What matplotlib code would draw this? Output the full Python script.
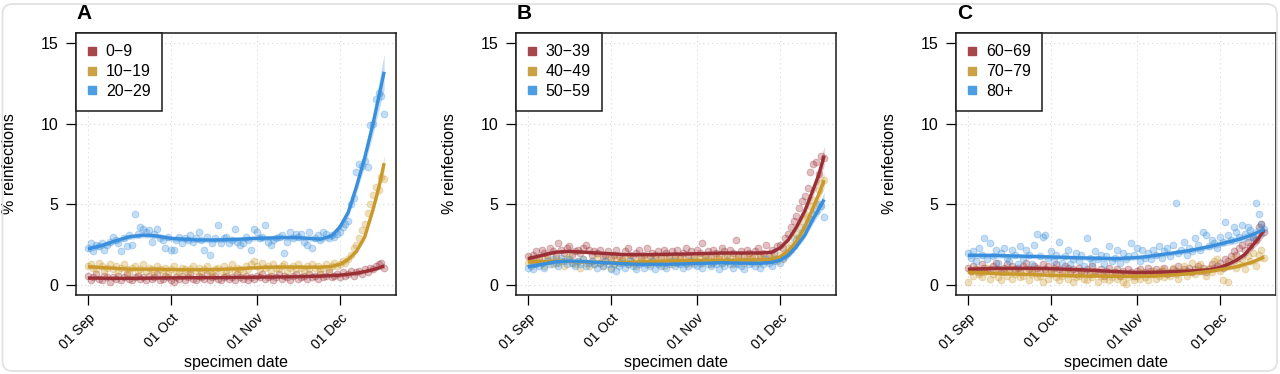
import numpy as np
import pandas as pd
import matplotlib
matplotlib.use("Agg")
import matplotlib.pyplot as plt
import matplotlib.dates as mdates
from matplotlib.lines import Line2D
from matplotlib.patches import FancyBboxPatch

plt.rcParams['font.family'] = ['Liberation Sans', 'DejaVu Sans']

# ---------------- data ----------------
start_date = "2020-09-01"
n_days = 108
tick_dates = ["2020-09-01", "2020-10-01", "2020-11-01", "2020-12-01"]
tick_labels = ["01 Sep", "01 Oct", "01 Nov", "01 Dec"]
panel_letters = ["A", "B", "C"]
panel_groups = [["0\u22129", "10\u221219", "20\u221229"],
                ["30\u221239", "40\u221249", "50\u221259"],
                ["60\u221269", "70\u221279", "80+"]]
y_ticks = [0, 5, 10, 15]

# smooth-fit nodes (day offsets from 1 Sep)
curve_days = [0, 5, 10, 15, 20, 25, 30, 35, 40, 45, 50, 55, 60, 65, 70, 75, 80, 84, 88, 91, 94, 97, 100, 103, 105, 107]

# ---- Panel A ----
pts_0_9 = [
    0.6, 0.3, 0.5, 0.7, 0.4, 0.3, 0.6, 0.5, 0.2, 0.5,
    0.4, 0.6, 0.3, 0.5, 0.7, 0.4, 0.3, 0.5, 0.6, 0.4,
    0.5, 0.3, 0.6, 0.4, 0.5, 0.7, 0.3, 0.4, 0.6, 0.5,
    0.3, 0.2, 0.5, 0.4, 0.6, 0.3, 0.5, 0.7, 0.4, 0.3,
    0.6, 0.5, 0.4, 0.7, 0.3, 0.5, 0.6, 0.4, 0.3, 0.5,
    0.6, 0.4, 0.5, 0.3, 0.7, 0.5, 0.4, 0.6, 0.3, 0.5,
    0.4, 0.6, 0.5, 0.7, 0.4, 0.5, 0.6, 0.3, 0.5, 0.7,
    0.4, 0.6, 0.5, 0.3, 0.6, 0.7, 0.4, 0.5, 0.6, 0.4,
    0.7, 0.5, 0.6, 0.4, 0.7, 0.5, 0.6, 0.8, 0.5, 0.6,
    0.7, 0.5, 0.8, 0.6, 0.7, 0.9, 0.6, 0.8, 0.9, 0.7,
    1.0, 0.8, 1.1, 1.0, 1.2, 1.3, 1.4, 1.1]
pts_10_19 = [
    1.2, 1.3, 1.1, 1.0, 1.4, 1.2, 0.9, 1.1, 1.3, 1.0,
    1.2, 0.9, 1.1, 1.3, 1.0, 0.8, 1.1, 1.2, 0.9, 1.0,
    1.3, 0.9, 1.1, 1.0, 0.8, 1.2, 1.0, 0.9, 1.1, 0.7,
    1.0, 1.2, 0.9, 0.8, 1.1, 1.0, 0.7, 1.0, 1.2, 0.9,
    1.1, 0.8, 1.0, 1.2, 0.9, 0.7, 1.0, 1.1, 0.9, 1.2,
    0.8, 1.0, 1.3, 0.9, 1.1, 1.0, 0.8, 1.2, 1.0, 1.3,
    1.5, 1.2, 1.0, 1.4, 1.1, 1.2, 0.9, 1.3, 1.1, 1.0,
    1.2, 1.3, 0.9, 1.1, 1.2, 1.0, 1.3, 1.1, 0.9, 1.2,
    1.0, 1.3, 1.1, 1.2, 0.9, 1.1, 1.3, 1.0, 1.2, 1.4,
    1.2, 1.3, 1.5, 1.4, 1.6, 1.9, 2.3, 2.5, 2.9, 3.4,
    3.8, 4.5, 5.0, 5.6, 6.1, 5.9, 6.7, 6.6]
pts_20_29 = [
    2.3, 2.6, 2.1, 2.5, 2.4, 2.6, 2.2, 2.5, 2.7, 3.0,
    2.8, 2.6, 2.1, 2.9, 2.4, 3.1, 2.5, 4.4, 3.2, 3.6,
    3.5, 3.3, 3.4, 2.7, 3.2, 3.5, 2.9, 2.8, 2.3, 3.0,
    2.2, 2.2, 2.8, 3.0, 2.6, 2.9, 2.8, 3.1, 2.7, 2.9,
    3.3, 2.8, 2.2, 3.0, 1.9, 2.6, 2.9, 3.7, 2.6, 2.9,
    3.0, 2.6, 2.8, 3.5, 2.7, 2.5, 2.6, 3.0, 2.8, 2.2,
    3.5, 3.3, 2.9, 3.0, 3.7, 2.7, 2.5, 2.8, 2.9, 3.0,
    3.1, 2.0, 2.7, 3.3, 2.9, 3.2, 3.0, 3.2, 2.7, 2.5,
    3.3, 2.3, 2.9, 3.1, 2.8, 3.3, 3.2, 2.9, 3.1, 3.0,
    3.2, 3.3, 3.6, 3.8, 4.0, 5.0, 5.4, 7.0, 7.5, 7.4,
    7.7, 7.3, 9.9, 10.0, 11.5, 11.9, 11.7, 10.6]
fit_0_9 = [0.45, 0.44, 0.43, 0.43, 0.44, 0.45, 0.46, 0.47, 0.47, 0.47, 0.48, 0.49, 0.5,
           0.51, 0.52, 0.53, 0.55, 0.57, 0.6, 0.63, 0.68, 0.75, 0.85, 0.97, 1.07, 1.2]
fit_10_19 = [1.15, 1.1, 1.05, 1.0, 1.0, 1.0, 0.98, 0.97, 0.97, 0.98, 1.0, 1.03, 1.08,
             1.12, 1.13, 1.13, 1.12, 1.12, 1.17, 1.3, 1.6, 2.1, 3.0, 4.7, 6.0, 7.55]
fit_20_29 = [2.25, 2.45, 2.75, 3.0, 3.1, 3.05, 2.9, 2.85, 2.8, 2.8, 2.82, 2.85, 2.9,
             2.92, 2.95, 2.95, 2.9, 2.85, 3.05, 3.6, 4.5, 6.1, 7.9, 10.0, 11.6, 13.2]
ci_0_9 = [0.08, 0.07, 0.06, 0.06, 0.06, 0.06, 0.06, 0.06, 0.06, 0.06, 0.06, 0.06, 0.06,
          0.06, 0.06, 0.06, 0.06, 0.06, 0.07, 0.07, 0.08, 0.08, 0.09, 0.1, 0.12, 0.15]
ci_10_19 = [0.1, 0.09, 0.08, 0.08, 0.08, 0.08, 0.08, 0.08, 0.08, 0.08, 0.08, 0.08, 0.08,
            0.08, 0.08, 0.08, 0.08, 0.08, 0.09, 0.1, 0.12, 0.15, 0.2, 0.3, 0.38, 0.5]
ci_20_29 = [0.2, 0.18, 0.16, 0.16, 0.16, 0.16, 0.16, 0.16, 0.16, 0.16, 0.16, 0.16, 0.16,
            0.16, 0.16, 0.16, 0.16, 0.17, 0.2, 0.25, 0.3, 0.38, 0.5, 0.65, 0.85, 1.1]

# ---- Panel B ----
pts_30_39 = [
    1.8, 1.6, 1.9, 2.1, 1.7, 2.2, 2.0, 1.9, 2.3, 2.1,
    1.8, 2.6, 2.2, 2.0, 2.3, 2.4, 1.9, 2.1, 2.2, 2.0,
    2.3, 2.5, 2.2, 1.9, 2.1, 2.0, 2.2, 1.8, 1.9, 2.1,
    1.7, 1.9, 2.2, 1.8, 1.6, 2.1, 2.3, 1.9, 1.8, 2.0,
    2.2, 1.7, 1.9, 2.3, 1.8, 2.0, 1.9, 2.1, 1.7, 2.2,
    2.0, 1.8, 2.1, 1.9, 2.2, 1.7, 2.0, 2.3, 1.9, 2.1,
    1.8, 2.2, 2.0, 2.6, 1.9, 2.1, 1.7, 2.2, 2.0, 1.8,
    2.3, 2.1, 1.9, 2.2, 2.0, 2.8, 1.8, 2.1, 1.9, 2.2,
    2.0, 1.7, 2.1, 2.3, 1.9, 2.0, 2.5, 1.8, 2.2, 2.0,
    2.4, 2.5, 2.3, 2.9, 3.2, 3.6, 4.0, 4.3, 4.8, 5.2,
    5.5, 6.0, 7.0, 7.5, 7.6, 6.9, 8.0, 7.9]
pts_40_49 = [
    1.4, 1.6, 1.3, 1.5, 1.7, 1.4, 1.2, 1.6, 1.5, 1.3,
    1.7, 1.4, 1.5, 1.2, 1.6, 1.8, 1.4, 1.3, 1.5, 1.1,
    1.6, 1.4, 1.2, 1.5, 1.3, 1.7, 1.4, 1.2, 1.5, 1.6,
    1.1, 1.3, 1.6, 1.4, 1.5, 1.8, 1.3, 1.6, 1.4, 1.2,
    1.5, 1.7, 1.4, 1.6, 1.3, 1.5, 1.8, 1.4, 1.6, 1.2,
    1.5, 1.7, 1.3, 1.6, 1.4, 1.8, 1.5, 1.3, 1.7, 1.4,
    1.6, 1.5, 1.8, 1.4, 1.6, 1.7, 1.3, 1.5, 1.9, 1.6,
    1.4, 1.7, 1.5, 1.8, 1.3, 1.6, 1.7, 1.5, 1.4, 1.8,
    1.6, 1.5, 1.7, 1.4, 1.9, 1.6, 1.5, 1.8, 1.6, 1.7,
    1.5, 1.9, 1.6, 2.0, 2.3, 2.5, 2.9, 3.2, 3.6, 4.0,
    4.4, 4.2, 4.9, 5.3, 5.0, 5.9, 6.3, 6.5]
pts_50_59 = [
    1.1, 1.2, 1.0, 1.3, 1.2, 1.4, 1.1, 1.5, 1.3, 1.6,
    1.4, 1.2, 1.7, 1.5, 1.3, 1.6, 1.4, 1.2, 1.5, 1.3,
    1.6, 1.2, 1.4, 1.5, 1.3, 1.1, 1.4, 1.2, 1.5, 1.3,
    1.0, 1.3, 0.9, 1.2, 1.4, 1.1, 1.3, 1.5, 1.2, 1.0,
    1.3, 1.4, 1.1, 1.3, 1.2, 1.5, 1.0, 1.3, 1.2, 1.4,
    1.1, 1.3, 1.5, 1.2, 1.4, 1.3, 1.1, 1.4, 1.2, 1.5,
    1.3, 1.2, 1.4, 1.1, 1.5, 1.3, 1.2, 1.4, 1.3, 1.0,
    1.4, 1.2, 1.5, 1.3, 1.1, 1.4, 1.3, 1.2, 1.0, 1.5,
    1.3, 1.4, 1.2, 1.5, 1.1, 1.3, 1.6, 1.4, 1.2, 1.5,
    1.6, 1.4, 1.7, 1.8, 2.0, 2.2, 2.4, 2.8, 3.0, 3.3,
    3.6, 3.9, 4.1, 4.4, 4.6, 5.0, 4.9, 4.2]
fit_30_39 = [1.65, 1.85, 2.05, 2.1, 2.05, 2.0, 1.95, 1.9, 1.9, 1.9, 1.92, 1.93, 1.95,
             1.97, 2.0, 2.0, 2.0, 2.0, 2.05, 2.3, 2.8, 3.6, 4.6, 5.9, 6.8, 8.0]
fit_40_49 = [1.45, 1.47, 1.5, 1.48, 1.45, 1.42, 1.4, 1.42, 1.45, 1.48, 1.5, 1.52, 1.53,
             1.54, 1.55, 1.56, 1.57, 1.58, 1.6, 1.75, 2.1, 2.7, 3.6, 4.8, 5.6, 6.5]
fit_50_59 = [1.15, 1.3, 1.45, 1.5, 1.47, 1.42, 1.38, 1.33, 1.3, 1.3, 1.3, 1.32, 1.35,
             1.37, 1.4, 1.38, 1.36, 1.36, 1.42, 1.55, 1.85, 2.4, 3.1, 4.1, 4.7, 5.3]
ci_30_39 = [0.12, 0.1, 0.09, 0.09, 0.09, 0.09, 0.09, 0.09, 0.09, 0.09, 0.09, 0.09, 0.09,
            0.09, 0.09, 0.09, 0.09, 0.09, 0.1, 0.12, 0.15, 0.2, 0.26, 0.35, 0.45, 0.6]
ci_40_49 = [0.1, 0.09, 0.08, 0.08, 0.08, 0.08, 0.08, 0.08, 0.08, 0.08, 0.08, 0.08, 0.08,
            0.08, 0.08, 0.08, 0.08, 0.08, 0.09, 0.1, 0.13, 0.17, 0.22, 0.3, 0.38, 0.5]
ci_50_59 = [0.1, 0.09, 0.08, 0.08, 0.08, 0.08, 0.08, 0.08, 0.08, 0.08, 0.08, 0.08, 0.08,
            0.08, 0.08, 0.08, 0.08, 0.08, 0.09, 0.1, 0.12, 0.16, 0.2, 0.28, 0.35, 0.45]

# ---- Panel C ----
pts_60_69 = [
    1.1, 0.9, 1.2, 1.0, 0.8, 1.3, 1.1, 0.9, 1.0, 1.2,
    1.4, 1.0, 0.8, 1.1, 1.3, 0.9, 1.2, 1.0, 1.1, 0.8,
    1.2, 1.4, 1.0, 0.9, 1.2, 1.1, 0.8, 1.3, 1.0, 1.2,
    0.9, 1.1, 1.3, 1.0, 0.8, 1.2, 1.1, 0.9, 1.0, 0.7,
    1.1, 0.9, 0.8, 1.0, 0.7, 1.2, 0.9, 0.8, 1.0, 0.6,
    0.9, 1.1, 0.7, 0.8, 1.0, 0.6, 0.9, 0.7, 1.0, 0.8,
    0.6, 0.9, 1.0, 0.7, 0.8, 1.1, 0.9, 0.7, 1.0, 0.8,
    0.9, 1.1, 0.7, 0.8, 1.0, 0.9, 1.2, 0.8, 1.0, 0.9,
    1.1, 0.8, 1.0, 1.2, 0.9, 1.1, 0.8, 1.0, 1.3, 1.1,
    1.2, 1.4, 1.1, 1.6, 1.5, 1.8, 2.1, 1.9, 2.3, 2.5,
    2.2, 2.7, 2.4, 3.0, 2.8, 3.6, 3.8, 3.3]
pts_70_79 = [
    0.2, 0.9, 0.6, 1.0, 0.7, 0.5, 0.8, 1.1, 0.4, 0.7,
    0.9, 0.5, 0.3, 0.8, 0.6, 1.0, 0.4, 0.7, 0.9, 0.5,
    0.6, 0.8, 0.3, 0.7, 1.0, 0.5, 0.6, 0.2, 0.8, 0.4,
    0.7, 0.9, 0.5, 0.3, 0.6, 0.8, 0.4, 0.7, 0.2, 0.5,
    0.6, 0.9, 0.4, 0.3, 0.7, 0.5, 0.8, 0.2, 0.6, 0.4,
    0.7, 0.3, 0.5, 0.8, 0.4, 0.6, 0.2, 0.1, 0.5, 0.7,
    0.3, 0.6, 0.4, 0.8, 0.5, 0.3, 0.7, 0.9, 0.4, 0.6,
    1.0, 0.5, 0.8, 0.6, 1.1, 0.7, 0.4, 0.9, 1.2, 0.6,
    0.8, 1.4, 0.7, 1.0, 1.3, 0.9, 0.6, 1.1, 0.8, 1.5,
    1.6, 0.9, 0.3, 1.2, 0.2, 1.4, 1.7, 1.1, 1.3, 1.6,
    1.0, 1.8, 1.5, 2.0, 1.2, 1.9, 2.2, 1.7]
pts_80p = [
    2.0, 1.7, 2.1, 1.5, 2.3, 1.9, 2.9, 1.6, 2.6, 1.8,
    2.2, 1.4, 2.0, 2.3, 1.7, 1.5, 2.2, 1.9, 1.3, 2.4,
    1.6, 2.2, 1.9, 1.3, 2.5, 3.2, 1.8, 3.0, 3.1, 1.7,
    2.1, 1.5, 1.9, 2.7, 1.4, 1.8, 2.2, 1.3, 1.6, 2.0,
    1.5, 1.9, 1.2, 2.9, 1.7, 1.4, 2.1, 1.6, 1.9, 1.3,
    1.8, 2.4, 1.5, 1.7, 2.2, 1.4, 2.0, 1.6, 1.8, 2.6,
    1.9, 2.3, 1.5, 2.2, 1.7, 2.0, 1.6, 2.2, 1.9, 2.4,
    1.7, 2.1, 2.3, 1.8, 2.5, 5.1, 2.0, 2.2, 2.7, 1.9,
    2.3, 2.1, 2.9, 2.5, 2.2, 3.3, 3.1, 2.4, 2.8, 2.6,
    2.3, 3.0, 2.7, 3.9, 3.1, 2.8, 3.6, 3.3, 3.0, 3.7,
    3.2, 3.6, 3.4, 2.9, 5.1, 4.4, 3.8, 3.5]
fit_60_69 = [1.0, 1.02, 1.05, 1.05, 1.05, 1.05, 1.03, 1.0, 0.97, 0.93, 0.88, 0.84, 0.8,
             0.8, 0.82, 0.85, 0.88, 0.92, 0.98, 1.1, 1.3, 1.55, 1.9, 2.5, 2.9, 3.45]
fit_70_79 = [0.8, 0.77, 0.73, 0.7, 0.68, 0.65, 0.62, 0.6, 0.58, 0.57, 0.56, 0.55, 0.55,
             0.56, 0.6, 0.65, 0.72, 0.8, 0.88, 0.97, 1.05, 1.15, 1.3, 1.45, 1.6, 1.75]
fit_80p = [1.85, 1.85, 1.84, 1.82, 1.8, 1.78, 1.75, 1.73, 1.7, 1.68, 1.66, 1.66, 1.7,
           1.78, 1.9, 2.02, 2.15, 2.28, 2.42, 2.55, 2.68, 2.8, 2.95, 3.15, 3.3, 3.45]
ci_60_69 = [0.12, 0.1, 0.09, 0.09, 0.09, 0.09, 0.09, 0.09, 0.09, 0.09, 0.09, 0.09, 0.09,
            0.09, 0.09, 0.09, 0.09, 0.1, 0.1, 0.12, 0.14, 0.17, 0.2, 0.25, 0.3, 0.38]
ci_70_79 = [0.1, 0.09, 0.08, 0.08, 0.08, 0.08, 0.08, 0.08, 0.08, 0.08, 0.08, 0.08, 0.08,
            0.08, 0.08, 0.08, 0.08, 0.08, 0.09, 0.1, 0.1, 0.11, 0.12, 0.14, 0.16, 0.2]
ci_80p = [0.2, 0.17, 0.15, 0.14, 0.14, 0.14, 0.14, 0.14, 0.14, 0.14, 0.14, 0.14, 0.14,
          0.14, 0.14, 0.14, 0.15, 0.16, 0.17, 0.18, 0.2, 0.22, 0.25, 0.3, 0.35, 0.42]

panel_points = [[pts_0_9, pts_10_19, pts_20_29],
                [pts_30_39, pts_40_49, pts_50_59],
                [pts_60_69, pts_70_79, pts_80p]]
panel_fits = [[fit_0_9, fit_10_19, fit_20_29],
              [fit_30_39, fit_40_49, fit_50_59],
              [fit_60_69, fit_70_79, fit_80p]]
panel_cis = [[ci_0_9, ci_10_19, ci_20_29],
             [ci_30_39, ci_40_49, ci_50_59],
             [ci_60_69, ci_70_79, ci_80p]]

# ---------------- style ----------------
colors = ["#9a2f36", "#c9992c", "#3a8fdc"]
legend_colors = ["#a6474d", "#cba146", "#4c9de2"]
FS = 11.5

dates = pd.date_range(start_date, periods=n_days)
xd = mdates.date2num(dates.to_pydatetime())
x0 = mdates.date2num(pd.Timestamp(start_date).to_pydatetime())
cx = x0 + np.array(curve_days, dtype=float)
ticks_x = mdates.date2num(pd.to_datetime(tick_dates).to_pydatetime())

W, H = 1280, 374
fig = plt.figure(figsize=(W / 100, H / 100), dpi=100)
fig.patch.set_facecolor("white")
fig.patches.append(FancyBboxPatch((2.5, 3.0), W - 5.5, H - 7.0,
                                  boxstyle="round,pad=0,rounding_size=10",
                                  transform=None, facecolor="none",
                                  edgecolor="#e2e2e2", linewidth=1.3))

lefts = [76, 516, 956]
ax_w, ax_top, ax_bot = 320, 33, 295
pad = 0.04 * (xd[-1] - xd[0])
for p in range(3):
    ax = fig.add_axes([lefts[p] / W, 1 - ax_bot / H, ax_w / W, (ax_bot - ax_top) / H])
    ax.set_xlim(xd[0] - pad, xd[-1] + pad)
    ax.set_ylim(-0.6, 15.6)
    # dotted grid
    for yv in y_ticks:
        ax.axhline(yv, color="#d9d9d9", lw=0.8, ls=(0, (1, 3)), zorder=0)
    for xv in ticks_x:
        ax.axvline(xv, color="#d9d9d9", lw=0.8, ls=(0, (1, 3)), zorder=0)
    for s in range(3):
        ax.scatter(xd, panel_points[p][s], s=24, facecolor=colors[s], alpha=0.3,
                   edgecolor=colors[s], linewidth=0.7, zorder=2)
    for s in range(3):
        f = np.array(panel_fits[p][s])
        c = np.array(panel_cis[p][s])
        ax.fill_between(cx, f - c, f + c, color=colors[s], alpha=0.3, lw=0, zorder=3)
    for s in range(3):
        ax.plot(cx, panel_fits[p][s], color=colors[s], lw=2.4, zorder=4,
                solid_capstyle="butt")
    ax.set_yticks(y_ticks)
    ax.set_yticklabels([str(v) for v in y_ticks], fontsize=FS)
    ax.set_xticks(ticks_x)
    ax.set_xticklabels(tick_labels, rotation=45, ha="right", va="top",
                       rotation_mode="anchor", fontsize=10)
    ax.tick_params(axis="y", length=7.5, width=0.9, pad=5, direction="out")
    ax.tick_params(axis="x", length=7.5, width=0.9, pad=4, direction="out")
    for sp in ax.spines.values():
        sp.set_linewidth(1.1)
        sp.set_color("#1a1a1a")
    ax.set_ylabel("% reinfections", fontsize=FS)
    ax.yaxis.set_label_coords((10 - 76) / ax_w, 0.5)
    ax.yaxis.label.set_va("center")
    ax.set_xlabel("specimen date", fontsize=FS)
    ax.xaxis.set_label_coords(0.5, (ax_bot - 362) / (ax_bot - ax_top))
    ax.xaxis.label.set_va("center")
    ax.text(0.003, (ax_bot - 13.5) / (ax_bot - ax_top), panel_letters[p],
            transform=ax.transAxes, fontsize=15, fontweight="bold",
            ha="left", va="center")
    handles = [Line2D([], [], marker="s", ls="", color=legend_colors[s],
                      markersize=5.3) for s in range(3)]
    leg = ax.legend(handles, panel_groups[p], loc="upper left",
                    bbox_to_anchor=(0, 1), borderaxespad=0, fontsize=FS,
                    frameon=True, fancybox=False, edgecolor="#1a1a1a",
                    framealpha=1, handlelength=0.55, handletextpad=0.6,
                    labelspacing=0.3, borderpad=0.72)
    leg.get_frame().set_linewidth(1.1)
    leg.set_zorder(10)

fig.savefig("out.png", dpi=100, facecolor="white")
